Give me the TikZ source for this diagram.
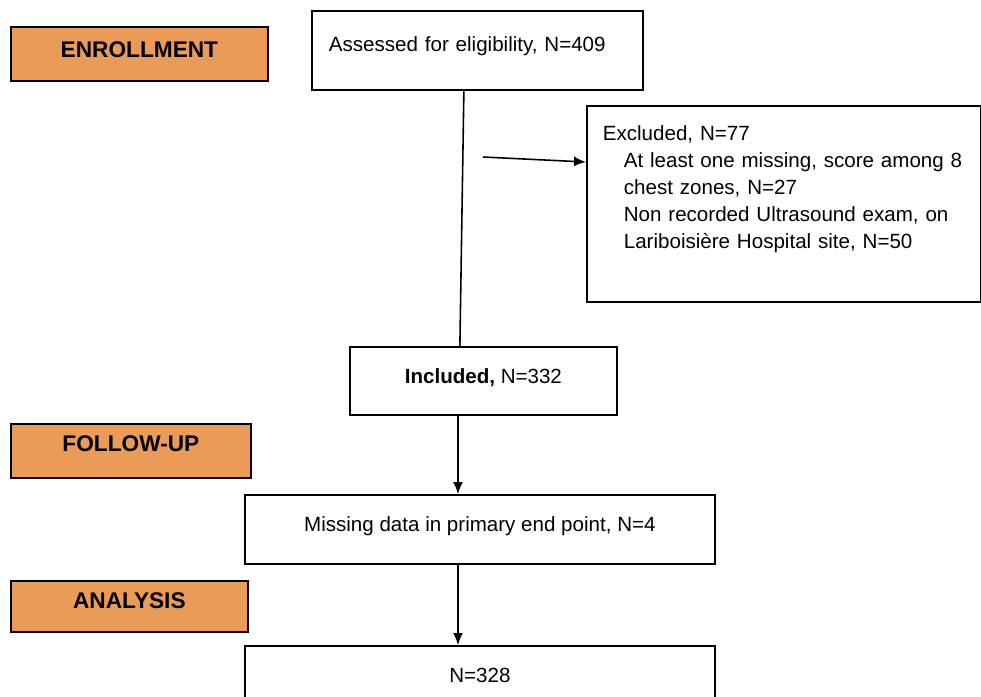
\documentclass[tikz,border=0pt]{standalone}
\usepackage{fontspec}
\setmainfont{Liberation Sans}
\usetikzlibrary{arrows.meta}
\definecolor{phaseorange}{RGB}{235,155,88}
\begin{document}
\begin{tikzpicture}[x=0.2mm,y=-0.2mm,
  box/.style={draw,line width=1pt,inner sep=0pt,anchor=north west,
    font=\fontsize{11.7}{15.3}\selectfont},
  phase/.style={box,fill=phaseorange,font=\fontsize{12.9}{15}\selectfont\bfseries},
  arr/.style={-{Latex[length=2.4mm,width=2mm]},line width=0.9pt}]
\useasboundingbox (0,0) rectangle (981,696);
\clip (0,0) rectangle (981,696);

\coordinate (spine) at (458,0);
\coordinate (exclfrom) at (483,157);

% the orange phase labels on the left
\foreach \nm/\xa/\ya/\w/\th/\td/\txt in {enroll/10/26/51.4/6.2/4.6/ENROLLMENT,
  follow/10/423/48/5.6/5.2/FOLLOW-UP,analysis/10/580/47.4/5.6/4.6/ANALYSIS}
{
  \node[phase,minimum width=\w mm,text height=\th mm,text depth=\td mm] (\nm) at (\xa,\ya) {\txt};
}

% the boxes of the flow
\node[box,text width=59.4mm,inner xsep=3.4mm,align=left,text height=8.2mm,text depth=7.6mm]
  (assessed) at (311,10) {Assessed for eligibility, N=409};
\node[box,text width=72.4mm,inner xsep=3.2mm,align=left,text height=7mm,text depth=32.2mm]
  (excl) at (586,105) {Excluded, N=77\\
  \hspace*{4.2mm}At least one missing, score among 8\\
  \hspace*{4.2mm}chest zones, N=27\\
  \hspace*{4.2mm}Non recorded Ultrasound exam, on\\
  \hspace*{4.2mm}Lariboisière Hospital site, N=50};
\node[box,minimum width=53.4mm,text height=7.4mm,text depth=6.2mm]
  (incl) at (349,346) {\textbf{Included,} N=332};
\node[box,minimum width=94mm,text height=7.4mm,text depth=6.4mm]
  (miss) at (244,494) {Missing data in primary end point, N=4};
\node[box,minimum width=94mm,text height=7.4mm,text depth=6.4mm]
  (final) at (244,645) {N=328};

% the connectors
\draw[line width=0.9pt] ([xshift=-2.7mm]assessed.south) -- ([xshift=-4.7mm]incl.north);
\draw[arr] (exclfrom) -- ([yshift=-11.4mm]excl.north west);
\draw[arr] (incl.south -| spine) -- (miss.north -| spine);
\draw[arr] (miss.south -| spine) -- (final.north -| spine);
\end{tikzpicture}
\end{document}
